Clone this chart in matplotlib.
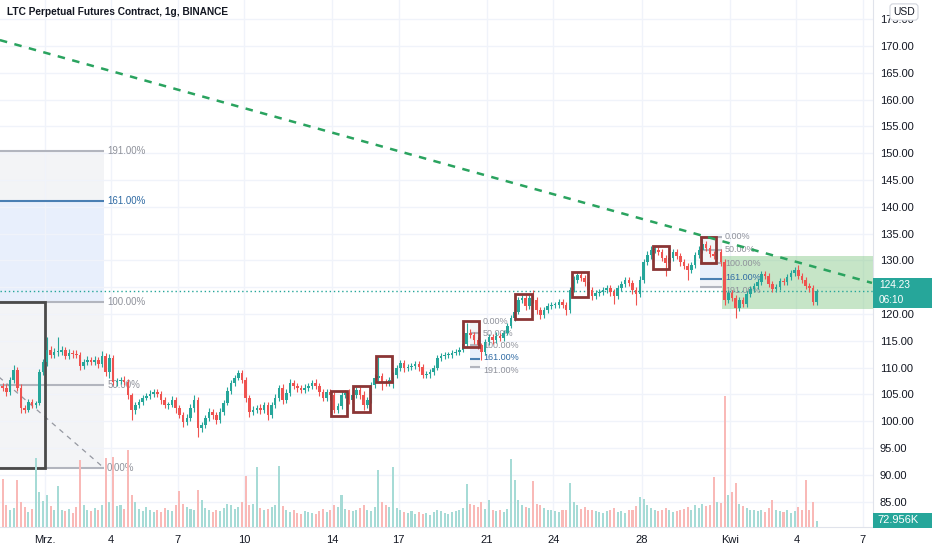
import numpy as np
import matplotlib.pyplot as plt
from matplotlib.patches import Rectangle

plt.rcParams["font.family"] = ["Liberation Sans", "DejaVu Sans"]

W, H = 932, 550
AX_RIGHT = 873   # px, price scale starts here
AX_BOTTOM = 527  # px, time scale starts here

UP = "#26a69a"
DOWN = "#ef5350"
TEXT = "#131722"

title = "LTC Perpetual Futures Contract, 1g, BINANCE"

# time axis: days since 1 Mar 00:00, candles of 4 hours from 27 Feb
t0 = -2.0
bar_days = 1 / 6
first_open = 106.6

close = [
    106.19, 105.45, 107.69, 109.55, 106.19, 102.46,
    102.09, 103.59, 103.02, 103.40, 109.18, 111.04,
    113.28, 112.35, 112.91, 112.91, 113.28, 112.16,
    112.72, 112.54, 112.35, 110.30, 111.04, 111.42,
    111.04, 111.42, 110.67, 112.16, 109.18, 111.79,
    107.31, 107.50, 107.69, 107.31, 104.89, 102.09,
    103.02, 103.59, 104.33, 104.70, 105.07, 105.45,
    105.07, 103.96, 103.02, 103.02, 103.96, 102.46,
    101.16, 99.85, 100.60, 102.46, 103.96, 98.73,
    99.29, 100.60, 101.72, 101.16, 100.22, 101.72,
    103.40, 105.63, 107.13, 108.06, 108.99, 107.69,
    104.33, 101.72, 102.09, 102.46, 102.09, 103.02,
    101.16, 103.02, 104.33, 106.19, 103.96, 105.26,
    107.13, 106.57, 106.19, 105.82, 106.19, 106.57,
    107.13, 106.57, 105.45, 104.33, 105.45, 104.89,
    102.09, 102.84, 104.89, 105.26, 103.96, 104.89,
    105.82, 104.89, 103.02, 103.96, 106.75, 108.06,
    108.43, 107.31, 107.13, 107.69, 108.62, 109.93,
    110.86, 109.93, 110.11, 110.30, 110.67, 110.11,
    108.62, 108.80, 109.18, 109.93, 111.79, 112.16,
    112.35, 112.35, 112.72, 112.91, 113.28, 114.40,
    116.46, 116.08, 115.15, 114.22, 112.91, 114.78,
    115.71, 115.15, 115.90, 115.52, 116.46, 117.76,
    119.25, 120.37, 122.61, 122.99, 121.49, 122.99,
    122.61, 120.75, 119.81, 120.75, 121.49, 121.68,
    121.68, 122.24, 121.68, 120.75, 124.48, 126.34,
    127.28, 126.72, 125.97, 124.48, 123.36, 123.92,
    124.10, 124.48, 124.85, 124.10, 123.36, 124.85,
    125.60, 126.34, 125.78, 124.48, 123.73, 126.34,
    129.70, 131.01, 131.94, 131.94, 131.57, 130.45,
    129.51, 130.45, 131.57, 130.82, 129.70, 128.96,
    128.21, 129.14, 131.01, 131.94, 133.06, 132.31,
    131.19, 130.82, 131.57, 129.70, 122.61, 123.92,
    122.99, 121.12, 122.61, 121.87, 123.73, 124.66,
    125.22, 125.97, 127.46, 127.09, 125.60, 124.66,
    125.04, 126.16, 125.97, 126.90, 127.65, 128.21,
    127.09, 126.34, 125.22, 124.85, 122.24, 124.23,
]

wick_up = [
    0.6, 0.8, 0.5, 0.9, 0.5, 0.7,
    0.5, 0.6, 0.6, 0.4, 0.5, 0.6,
    2.4, 0.8, 0.7, 2.8, 0.7, 0.6,
    0.7, 0.6, 0.8, 0.6, 0.5, 0.7,
    0.6, 0.7, 0.5, 0.9, 0.6, 0.8,
    0.6, 0.5, 0.6, 0.8, 0.5, 0.4,
    0.6, 0.5, 0.5, 0.6, 0.7, 0.6,
    0.6, 0.5, 0.6, 0.5, 0.7, 0.5,
    0.5, 0.6, 0.7, 0.8, 0.9, 0.5,
    0.5, 0.6, 0.8, 0.5, 0.6, 0.7,
    0.6, 0.7, 0.6, 0.6, 0.6, 0.5,
    0.5, 0.6, 0.7, 0.6, 0.8, 0.6,
    0.6, 0.5, 0.7, 0.6, 0.8, 0.7,
    0.7, 0.6, 0.5, 0.6, 0.7, 0.6,
    0.6, 0.7, 0.5, 0.6, 0.5, 0.6,
    0.5, 0.6, 0.7, 0.6, 0.8, 0.6,
    0.6, 0.5, 0.7, 0.6, 0.6, 0.7,
    3.5, 0.6, 0.5, 0.6, 0.5, 0.6,
    0.6, 0.5, 0.6, 0.5, 0.6, 0.5,
    0.5, 0.6, 0.5, 0.6, 0.5, 0.6,
    0.5, 0.6, 0.5, 0.6, 0.5, 0.6,
    1.9, 0.7, 0.6, 0.5, 0.4, 0.6,
    0.6, 0.5, 0.7, 0.6, 0.6, 0.5,
    0.5, 0.4, 0.5, 0.6, 0.5, 0.6,
    1.5, 0.5, 0.6, 0.5, 0.6, 0.5,
    0.5, 0.6, 0.5, 0.6, 0.5, 0.7,
    0.6, 0.5, 0.6, 0.5, 0.6, 0.5,
    0.5, 0.6, 0.5, 0.6, 0.5, 0.6,
    0.6, 0.5, 0.6, 0.5, 0.6, 0.7,
    0.6, 0.7, 0.8, 0.7, 0.6, 0.5,
    0.5, 0.6, 0.6, 0.5, 0.6, 0.5,
    0.5, 0.6, 0.6, 0.7, 0.9, 0.6,
    0.6, 0.5, 0.6, 0.5, 0.5, 0.6,
    0.6, 0.5, 0.6, 0.5, 0.6, 0.5,
    0.5, 0.6, 0.6, 0.5, 0.5, 0.6,
    0.6, 0.5, 0.6, 0.5, 0.6, 0.5,
    0.9, 0.6, 0.5, 0.6, 0.5, 0.4,
]

wick_dn = [
    0.5, 0.7, 0.6, 0.5, 0.6, 1.0,
    0.5, 0.4, 0.6, 0.5, 0.4, 0.6,
    0.7, 0.6, 0.6, 0.7, 0.5, 0.6,
    0.5, 0.7, 0.6, 0.8, 0.5, 0.6,
    0.6, 0.5, 0.7, 0.5, 0.7, 1.2,
    0.6, 0.7, 0.5, 0.6, 0.8, 1.9,
    0.8, 0.5, 0.6, 0.4, 0.5, 0.6,
    0.6, 0.8, 0.5, 0.7, 0.4, 0.9,
    0.6, 1.0, 0.5, 0.6, 0.7, 1.7,
    0.8, 0.6, 0.5, 0.7, 0.8, 0.5,
    0.5, 0.4, 0.6, 0.5, 0.4, 0.6,
    0.7, 0.9, 0.6, 0.5, 0.7, 0.6,
    0.9, 0.6, 0.5, 0.6, 0.7, 0.5,
    0.5, 0.6, 0.7, 0.5, 0.6, 0.5,
    0.6, 0.5, 0.7, 0.6, 0.5, 0.9,
    0.6, 0.5, 0.6, 0.5, 0.7, 0.5,
    0.5, 0.7, 0.9, 0.5, 0.6, 0.5,
    0.5, 1.5, 0.6, 0.5, 1.5, 0.5,
    0.6, 0.7, 0.5, 0.6, 0.5, 0.8,
    0.6, 0.5, 0.8, 0.5, 0.4, 0.5,
    0.5, 0.6, 0.5, 0.4, 0.5, 0.4,
    0.5, 0.6, 0.7, 0.8, 1.5, 0.5,
    0.6, 0.7, 0.5, 0.6, 0.5, 0.4,
    0.4, 0.5, 0.4, 0.6, 0.7, 0.5,
    0.6, 0.7, 0.8, 0.5, 0.6, 0.5,
    0.5, 0.6, 0.5, 0.9, 0.5, 0.4,
    0.5, 0.6, 0.7, 0.8, 0.7, 0.5,
    0.6, 0.5, 0.6, 0.7, 1.5, 0.5,
    0.5, 0.6, 0.5, 0.7, 2.0, 0.6,
    0.5, 0.6, 0.7, 0.6, 0.5, 0.6,
    2.5, 0.6, 0.5, 0.6, 0.7, 0.6,
    1.9, 0.6, 0.5, 0.6, 0.5, 0.6,
    0.6, 0.5, 0.6, 0.7, 0.9, 0.6,
    0.6, 1.9, 0.5, 0.6, 0.5, 0.6,
    0.6, 0.5, 0.5, 0.6, 0.6, 0.5,
    0.5, 0.6, 0.5, 0.6, 0.5, 0.6,
    0.6, 0.5, 0.6, 0.7, 0.6, 0.5,
]

volume_k = [
    580, 260, 210, 230, 560, 300,
    240, 180, 220, 830, 420, 310,
    380, 250, 200, 490, 210, 190,
    220, 170, 240, 800, 260, 200,
    190, 230, 210, 260, 830, 300,
    840, 250, 260, 220, 920, 380,
    300, 220, 190, 240, 200, 180,
    210, 180, 230, 200, 190, 260,
    430, 280, 240, 220, 210, 440,
    320, 230, 200, 180, 210, 190,
    230, 280, 260, 220, 240, 300,
    610, 260, 280, 720, 230, 200,
    220, 240, 260, 730, 250, 210,
    180, 200, 170, 160, 190, 180,
    170, 160, 190, 220, 180, 200,
    260, 240, 380, 220, 200, 190,
    210, 230, 260, 200, 190, 240,
    680, 300, 260, 240, 720, 230,
    200, 180, 170, 190, 160, 180,
    160, 170, 150, 180, 210, 190,
    170, 160, 180, 190, 200, 230,
    520, 280, 260, 240, 300, 220,
    330, 210, 190, 200, 180, 220,
    820, 560, 320, 260, 240, 230,
    550, 280, 260, 230, 210, 200,
    190, 180, 200, 210, 530, 300,
    260, 220, 240, 200, 210, 190,
    180, 170, 190, 200, 230, 180,
    190, 170, 200, 210, 250, 360,
    340, 260, 230, 200, 190, 210,
    230, 200, 180, 190, 210, 220,
    240, 210, 260, 230, 280, 250,
    260, 600, 300, 290, 1570, 380,
    420, 530, 280, 250, 230, 210,
    200, 190, 210, 180, 230, 320,
    210, 190, 180, 200, 170, 190,
    240, 210, 560, 200, 300, 72.956,
]

last_price = 124.23
last_volume_label = "72.956K"
countdown = "06:10"

tick_days = [0, 3, 6, 9, 13, 16, 20, 23, 27, 31, 34, 37]
tick_labels = ["Mrz.", "4", "7", "10", "14", "17", "21", "24", "28", "Kwi", "4", "7"]
price_ticks = np.arange(85, 176, 5)

# long green trend line
trend_days = [-2.04, 37.42]
trend_prices = [171.1, 125.8]

# fib retracements: (start day, end day, 0% price, 100% price, label day, font size)
fib_levels = [0, 0.5, 1.0, 1.61, 1.91]
fib_left = (-6.0, 2.67, 91.27, 122.24, 2.81, 7)
fib_mid = (19.23, 19.68, 118.60, 114.20, 19.82, 6.5)
fib_right = (29.64, 30.63, 134.40, 129.50, 30.77, 6.5)

# red marker boxes
box_d0 = [12.93, 13.94, 14.98, 18.91, 21.27, 23.83, 27.52, 29.67]
box_d1 = [13.68, 14.71, 15.70, 19.64, 22.02, 24.59, 28.24, 30.34]
box_lo = [100.97, 101.77, 107.37, 113.90, 119.01, 123.12, 128.40, 129.46]
box_hi = [105.63, 106.62, 112.22, 118.69, 123.73, 127.78, 132.69, 134.31]

# green range zone
zone_days = (30.63, 40.0)
zone_prices = (121.0, 130.8)

# dark box on the left
dark_box = (-10.0, 0.0, 91.27, 122.24)

# ---------------------------------------------------------------------------
fig = plt.figure(figsize=(W / 100, H / 100), dpi=100)
rect = [0, (H - AX_BOTTOM) / H, AX_RIGHT / W, AX_BOTTOM / H]
ax = fig.add_axes(rect)

xmin, xmax = -45 / 22.1, (AX_RIGHT - 45) / 22.1
ymin, ymax = 120 - (AX_BOTTOM - 314) / 5.36, 120 + 314 / 5.36
ax.set_xlim(xmin, xmax)
ax.set_ylim(ymin, ymax)

ax.grid(True, color="#f0f3fa", lw=1)
ax.set_axisbelow(True)
for s in ("top", "left"):
    ax.spines[s].set_visible(False)
for s in ("right", "bottom"):
    ax.spines[s].set_color("#e0e3eb")

ax.yaxis.tick_right()
ax.set_yticks(price_ticks)
# the 125.00 label sits under the last-price tag, so it is left empty
ax.set_yticklabels(["" if abs(p - last_price) < 2.5 else f"{p:.2f}"
                    for p in price_ticks])
ax.set_xticks(tick_days)
ax.set_xticklabels(tick_labels)
ax.tick_params(axis="y", length=0, pad=5, labelsize=8, labelcolor=TEXT)
ax.tick_params(axis="x", length=0, pad=6, labelsize=8, labelcolor=TEXT)

FIB_GRAY = "#f3f4f6"
FIB_BLUE = "#e8effc"
FIB_LINE = "#b2b5be"
FIB_BLUE_LINE = "#4a7fb3"


def draw_fib(ax, fib):
    d0, d1, p0, p100, label_d, fs = fib
    price = lambda f: p0 + f * (p100 - p0)
    small = fs < 7
    ax.fill_between([d0, d1], price(0), price(1), color=FIB_GRAY, lw=0, zorder=0.2)
    ax.fill_between([d0, d1], price(1), price(1.61), color=FIB_BLUE, lw=0, zorder=0.2)
    ax.fill_between([d0, d1], price(1.61), price(1.91), color=FIB_GRAY, lw=0, zorder=0.2)
    for f in fib_levels:
        blue = f == 1.61
        ax.hlines(price(f), d0, d1, color=FIB_BLUE_LINE if blue else FIB_LINE,
                  lw=1.5, zorder=1)
        # tight levels on the small tools: nudge the last two labels apart
        dy = 0
        if small and f == 1.61:
            dy = 1.5
        elif small and f == 1.91:
            dy = -2.5
        ax.annotate(f"{f * 100:.2f}%", (label_d, price(f)), xytext=(0, dy),
                    textcoords="offset points", fontsize=fs, va="center",
                    ha="left", color="#2f6aa3" if blue else "#8f929b", zorder=3)


draw_fib(ax, fib_left)
draw_fib(ax, fib_mid)
draw_fib(ax, fib_right)

# left fib diagonal
ax.plot([fib_left[0], fib_left[1]], [fib_left[3], fib_left[2]], color="#9598a1",
        lw=0.9, dashes=(4, 4), zorder=1.5)

# dark box
ax.add_patch(Rectangle((dark_box[0], dark_box[2]), dark_box[1] - dark_box[0],
                       dark_box[3] - dark_box[2], fill=False, ec="#4a4a4a",
                       lw=2, zorder=2))

# green zone
ax.add_patch(Rectangle((zone_days[0], zone_prices[0]), zone_days[1] - zone_days[0],
                       zone_prices[1] - zone_prices[0], fc="#81c784", alpha=0.45,
                       lw=0, zorder=1.2))

# last price dotted line
ax.axhline(last_price, color=UP, lw=1, ls=(0, (1, 2)), zorder=2)

# candles
close = np.array(close)
n = len(close)
opens = np.r_[first_open, close[:-1]]
hi = np.maximum(opens, close) + np.array(wick_up)
lo = np.minimum(opens, close) - np.array(wick_dn)
xs = t0 + (np.arange(n) + 0.5) * bar_days
colors = np.where(close >= opens, UP, DOWN)
ax.vlines(xs, lo, hi, colors=colors, lw=0.8, zorder=4)
ax.bar(xs, np.maximum(np.abs(close - opens), 0.1), bottom=np.minimum(opens, close),
       width=bar_days * 0.7, color=colors, lw=0, zorder=5)

# red boxes
for a, b, lo_, hi_ in zip(box_d0, box_d1, box_lo, box_hi):
    ax.add_patch(Rectangle((a, lo_), b - a, hi_ - lo_, fill=False, ec="#8b3535",
                           lw=2, zorder=6))

# trend line
ax.plot(trend_days, trend_prices, color="#2aa35f", lw=1.8, dashes=(3, 3), zorder=7)

# volume pane
vax = fig.add_axes(rect, sharex=ax)
vax.set_axis_off()
vax.patch.set_alpha(0)
vax.set_ylim(0, AX_BOTTOM * 12)
vcol = np.where(close >= opens, "#a6dbd6", "#f9b9b7")
vax.bar(xs, volume_k, width=bar_days * 0.55, color=vcol, lw=0)
vax.set_xlim(xmin, xmax)

# title and labels on the scales
fig.text(7 / W, 1 - 12 / H, title, fontsize=7.3, fontweight="bold", color=TEXT,
         va="center", ha="left")
fig.text(904 / W, 1 - 12 / H, "USD", fontsize=7.5, color=TEXT, va="center",
         ha="center", bbox=dict(boxstyle="round,pad=0.3", fc="white",
                                ec="#d1d4dc", lw=0.8), zorder=5)

py = ax.transData.transform((0, last_price))[1]
fig.add_artist(Rectangle((AX_RIGHT / W, (py - 17) / H), (W - AX_RIGHT) / W, 30 / H,
                         transform=fig.transFigure, fc=UP, ec="none", zorder=3))
fig.text((AX_RIGHT + 6) / W, (py + 6) / H, f"{last_price:.2f}", fontsize=7.3,
         color="white", va="center", ha="left", zorder=4)
fig.text((AX_RIGHT + 6) / W, (py - 9) / H, countdown, fontsize=7.3,
         color="white", va="center", ha="left", zorder=4)

vy = vax.transData.transform((0, volume_k[-1]))[1]
fig.add_artist(Rectangle((AX_RIGHT / W, (vy - 7) / H), (W - AX_RIGHT) / W, 15 / H,
                         transform=fig.transFigure, fc=UP, ec="none", zorder=3))
fig.text((AX_RIGHT + 4) / W, (vy + 0.5) / H, last_volume_label, fontsize=8,
         color="white", va="center", ha="left", zorder=4)

fig.savefig("out.png", dpi=100, facecolor="white")
